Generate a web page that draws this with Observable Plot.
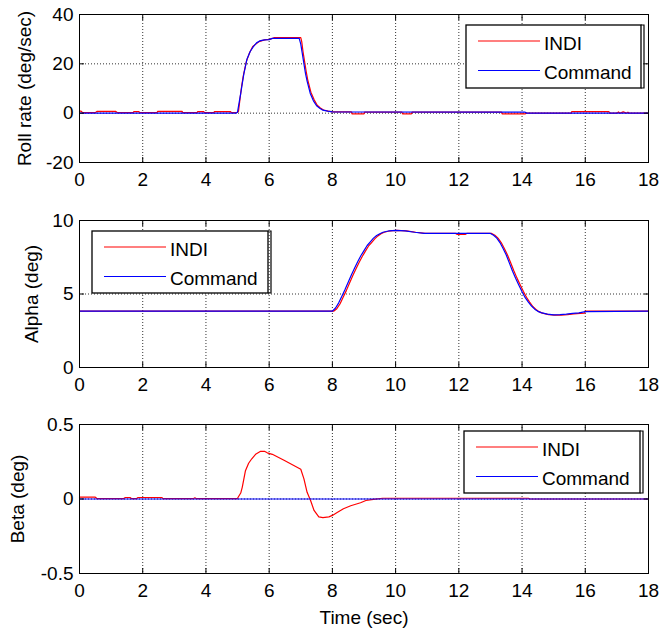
<!DOCTYPE html>
<html><head><meta charset="utf-8">
<script src="https://cdn.jsdelivr.net/npm/d3@7"></script>
<script src="https://cdn.jsdelivr.net/npm/@observablehq/plot@0.6"></script>
<style>
html,body{margin:0;padding:0;background:#fff;}
#chart{position:relative;width:664px;height:628px;background:#fff;}
#chart svg{position:absolute;left:0;}
</style></head><body><div id="chart"></div>
<script>
// ---- Data (time in sec, value) ----
const xTicks = [0, 2, 4, 6, 8, 10, 12, 14, 16, 18];
const rollTicks = [-20, 0, 20, 40];
const alphaTicks = [0, 5, 10];
const betaTicks = [-0.5, 0, 0.5];
const seriesNames = ["INDI", "Command"];

const rollCommand = [[0,0],[4.95,0],[5.0,0.5],[5.1,8],[5.2,16],[5.3,22],[5.4,25],[5.5,27],[5.6,28.5],[5.7,29.3],[5.85,29.7],[6.0,29.8],[6.1,30.3],[6.95,30.3],[7.0,28],[7.05,24],[7.1,20],[7.15,16],[7.2,13],[7.3,8],[7.4,5],[7.5,3],[7.6,2],[7.7,1.2],[7.85,0.8],[8.0,0.5],[14.1,0.4],[14.15,0],[18,0]];
const rollIndi = [[0,0.8],[0.05,0.8],[0.1,0.2],[0.5,0.2],[0.55,0.7],[1.15,0.7],[1.2,0.2],[1.7,0.2],[1.72,0.6],[1.88,0.6],[1.9,0.2],[2.45,0.2],[2.47,0.7],[3.25,0.7],[3.27,0.2],[3.72,0.2],[3.74,0.6],[3.93,0.6],[3.95,0.2],[4.25,0.2],[4.27,0.6],[4.78,0.6],[4.8,0.2],[4.98,0.2],[5.03,0.8],[5.08,6],[5.13,11],[5.18,15],[5.28,21],[5.38,24.5],[5.48,27],[5.58,28],[5.68,29],[5.8,29.5],[5.9,29.8],[6.0,29.9],[6.1,30.3],[6.15,30.6],[7.0,30.6],[7.03,29],[7.07,25],[7.12,21],[7.17,17],[7.22,13.5],[7.32,8.5],[7.42,5.5],[7.52,3.2],[7.62,2.1],[7.72,1.3],[7.87,0.8],[8.02,0.5],[8.6,0.5],[8.62,-0.3],[9.0,-0.3],[9.02,0.4],[10.2,0.4],[10.22,-0.3],[10.5,-0.3],[10.52,0.4],[13.35,0.4],[13.37,-0.3],[14.1,-0.3],[14.12,0],[15.55,0],[15.57,0.6],[16.75,0.6],[16.77,0],[17.0,0],[17.05,0.5],[17.1,0],[17.2,0.5],[17.3,0],[17.35,0.4],[17.4,0],[18,0]];

const alphaCommand = [[0,3.83],[8.0,3.83],[8.1,4.05],[8.2,4.4],[8.3,4.85],[8.4,5.3],[8.5,5.8],[8.6,6.3],[8.7,6.75],[8.8,7.2],[8.9,7.6],[9.0,7.95],[9.1,8.3],[9.2,8.55],[9.3,8.8],[9.4,8.98],[9.5,9.1],[9.6,9.2],[9.8,9.3],[10.0,9.33],[10.3,9.3],[10.6,9.2],[10.9,9.13],[11.5,9.12],[12.0,9.12],[12.5,9.12],[13.0,9.12],[13.1,9.0],[13.2,8.8],[13.3,8.5],[13.4,8.1],[13.5,7.65],[13.6,7.1],[13.7,6.55],[13.8,6.05],[13.9,5.6],[14.0,5.15],[14.1,4.75],[14.2,4.45],[14.3,4.18],[14.4,3.97],[14.5,3.82],[14.6,3.73],[14.8,3.63],[15.0,3.58],[15.2,3.6],[15.4,3.63],[15.6,3.68],[15.8,3.72],[16.0,3.8],[18,3.83]];
const alphaIndi = [[0,3.83],[8.04,3.83],[8.14,4.0],[8.24,4.32],[8.34,4.78],[8.44,5.23],[8.54,5.73],[8.64,6.23],[8.74,6.68],[8.84,7.13],[8.94,7.53],[9.04,7.9],[9.14,8.25],[9.24,8.5],[9.34,8.75],[9.44,8.95],[9.54,9.1],[9.64,9.2],[9.84,9.3],[10.04,9.33],[10.34,9.3],[10.64,9.2],[10.94,9.13],[11.5,9.12],[11.9,9.12],[11.95,9.05],[12.2,9.05],[12.25,9.12],[13.04,9.12],[13.14,9.0],[13.24,8.8],[13.34,8.5],[13.44,8.1],[13.54,7.65],[13.64,7.12],[13.74,6.58],[13.84,6.08],[13.94,5.63],[14.04,5.18],[14.14,4.78],[14.24,4.45],[14.34,4.15],[14.44,3.95],[14.54,3.8],[14.64,3.7],[14.84,3.6],[15.04,3.56],[15.24,3.56],[15.44,3.6],[15.64,3.65],[15.84,3.68],[15.98,3.7],[16.0,3.83],[18,3.83]];

const betaCommand = [[0,0],[18,0]];
const betaIndi = [[0,0.012],[0.5,0.012],[0.55,0.003],[1.4,0.003],[1.45,0.01],[1.6,0.01],[1.65,0.002],[1.8,0.002],[1.85,0.01],[2.6,0.01],[2.65,0.002],[3.6,0.002],[3.65,0.008],[3.7,0.002],[4.99,0.002],[5.1,0.04],[5.15,0.08],[5.25,0.19],[5.35,0.24],[5.45,0.27],[5.57,0.30],[5.73,0.32],[5.85,0.32],[5.94,0.31],[6.1,0.30],[6.47,0.26],[7.0,0.20],[7.1,0.135],[7.2,0.045],[7.31,-0.01],[7.42,-0.077],[7.57,-0.12],[7.7,-0.125],[7.89,-0.12],[8.0,-0.11],[8.15,-0.09],[8.35,-0.065],[8.58,-0.045],[8.89,-0.025],[9.06,-0.01],[9.3,-0.002],[9.59,0.005],[14.2,0.005],[14.25,0],[18,0]];

// ---- Drawing ----
const FONT = '"Liberation Sans", Arial, Helvetica, sans-serif';
const FS = "19px";
const chart = document.getElementById("chart");
const fmt = d => String(d);

function panel(cfg) {
  const {top, height, mt, mb, yDomain, yTicks, yLabel, labelOffset, indi, command, legend, xLabel} = cfg;
  const toRows = arr => arr.map(([t, v]) => ({t, v}));
  const marks = [
    Plot.gridX(xTicks, {stroke: "#333", strokeOpacity: 1, strokeDasharray: "1,2"}),
    Plot.gridY(yTicks, {stroke: "#333", strokeOpacity: 1, strokeDasharray: "1,2"}),
    Plot.line(toRows(indi), {x: "t", y: "v", stroke: "#ff0000", strokeWidth: 1.2}),
    Plot.line(toRows(command), {x: "t", y: "v", stroke: "#0000ff", strokeWidth: 1.2}),
    Plot.frame({stroke: "black", strokeWidth: 1}),
    Plot.axisX(xTicks, {anchor: "bottom", tickSize: -5, tickFormat: () => "", label: null}),
    Plot.axisX(xTicks, {anchor: "top", tickSize: -5, tickFormat: () => "", label: null}),
    Plot.axisY(yTicks, {anchor: "left", tickSize: -5, tickFormat: () => "", label: null}),
    Plot.axisY(yTicks, {anchor: "right", tickSize: -5, tickFormat: () => "", label: null}),
    Plot.axisX(xTicks, {anchor: "bottom", tickSize: 0, tickPadding: 10, tickFormat: fmt,
      label: xLabel ?? null, labelAnchor: "center", labelArrow: "none", labelOffset: 50}),
    Plot.axisY(yTicks, {anchor: "left", tickSize: 0, tickPadding: 6, tickFormat: fmt,
      label: yLabel, labelAnchor: "center", labelArrow: "none", labelOffset})
  ];
  const svg = Plot.plot({
    width: 664, height,
    marginLeft: 79, marginRight: 16, marginTop: mt, marginBottom: mb,
    x: {domain: [0, 18]},
    y: {domain: yDomain},
    style: {fontFamily: FONT, fontSize: FS, color: "black", background: "white", overflow: "visible"},
    marks
  });
  svg.style.top = top + "px";
  chart.appendChild(svg);

  // legend (MATLAB style box)
  const g = d3.select(svg).append("g").attr("font-family", FONT).attr("font-size", FS)
    .attr("text-anchor", "start");
  const [lx, ly, lw, lh] = legend;
  g.append("rect").attr("x", lx).attr("y", ly).attr("width", lw).attr("height", lh)
    .attr("fill", "white").attr("stroke", "black").attr("stroke-width", 1.3);
  g.append("path").attr("d", `M${lx+lw},${ly}H${lx+lw+3}V${ly+lh}H${lx+lw}`)
    .attr("fill", "none").attr("stroke", "black").attr("stroke-width", 1.2);
  const colors = ["#ff0000", "#0000ff"];
  seriesNames.forEach((name, i) => {
    const yy = ly + 16 + i * 29.5;
    g.append("line").attr("x1", lx + 12).attr("x2", lx + 74).attr("y1", yy).attr("y2", yy)
      .attr("stroke", colors[i]).attr("stroke-width", 1.2);
    g.append("text").attr("x", lx + 78).attr("y", yy + 8.5).attr("fill", "black").text(name);
  });
}

panel({top: 0, height: 200, mt: 14, mb: 38, yDomain: [-20, 40], yTicks: rollTicks,
  yLabel: "Roll rate (deg/sec)", labelOffset: 62, indi: rollIndi, command: rollCommand,
  legend: [466, 25, 175, 63]});
panel({top: 200, height: 200, mt: 20, mb: 33, yDomain: [0, 10], yTicks: alphaTicks,
  yLabel: "Alpha (deg)", labelOffset: 55, indi: alphaIndi, command: alphaCommand,
  legend: [92, 31, 176, 62]});
panel({top: 400, height: 228, mt: 24, mb: 55, yDomain: [-0.5, 0.5], yTicks: betaTicks,
  yLabel: "Beta (deg)", labelOffset: 69, indi: betaIndi, command: betaCommand,
  legend: [464, 31, 176, 62], xLabel: "Time (sec)"});
</script></body></html>
